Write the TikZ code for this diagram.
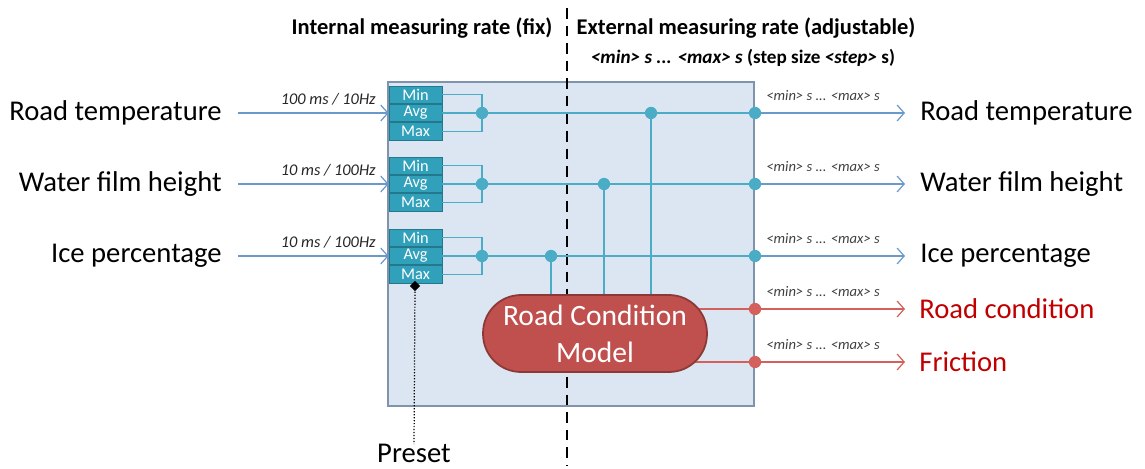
\documentclass[tikz,border=0pt]{standalone}
\usepackage{fontspec}
\setmainfont{Carlito}
\usetikzlibrary{arrows.meta,shapes.geometric}
\definecolor{boxfill}{HTML}{DCE6F2}
\definecolor{boxborder}{HTML}{7F93AD}
\definecolor{cellfill}{HTML}{31A0BA}
\definecolor{cellborder}{HTML}{23788C}
\definecolor{linecol}{HTML}{4BACC6}
\definecolor{arrowcol}{HTML}{6A9AC9}
\definecolor{redline}{HTML}{D4605C}
\definecolor{rcmfill}{HTML}{C0504D}
\definecolor{rcmborder}{HTML}{8C3836}
\definecolor{labred}{HTML}{C00000}
\tikzset{
  cell/.style={draw=cellborder, fill=cellfill, text=white, minimum width=1.06cm, minimum height=0.35cm, inner sep=0pt, font=\fontsize{9.3}{10}\selectfont},
  inarrow/.style={draw=arrowcol, line width=0.7pt, -{Straight Barb[length=4pt,width=9pt]}},
  outarrow/.style={draw=arrowcol, line width=0.7pt, -{Straight Barb[length=4pt,width=9pt]}},
  redarrow/.style={draw=redline, line width=0.7pt, -{Straight Barb[length=4pt,width=9pt]}},
  tline/.style={draw=linecol, line width=0.7pt},
  rline/.style={draw=redline, line width=0.7pt},
  tdot/.style={circle, fill=linecol, inner sep=0pt, minimum size=7pt},
  rdot/.style={circle, fill=redline, inner sep=0pt, minimum size=7pt},
  biglabel/.style={font=\fontsize{16.3}{19}\selectfont, inner sep=0pt},
  ratelabel/.style={font=\fontsize{9.3}{11}\selectfont\itshape, inner sep=0pt, text=black!85},
  outlabel/.style={font=\fontsize{8.3}{10}\selectfont, inner sep=0pt, text=black!75},
  header/.style={font=\fontsize{12.8}{15}\selectfont\bfseries, inner sep=0pt}
}
\begin{document}
\begin{tikzpicture}[x=0.02cm,y=-0.02cm]
\useasboundingbox (0,0) rectangle (1145,469);
% big box
\node[draw=boxborder, fill=boxfill, line width=0.8pt, minimum width=7.32cm, minimum height=6.48cm, inner sep=0pt] (box) at (571,244) {};
% dashed separator
\coordinate (dtop) at (567,8);
\coordinate (dbot) at (567,465);
\draw[line width=1.4pt, dash pattern=on 6pt off 4pt] (dtop) -- (dbot);
% headers
\node[header] (hint) at (422,28) {Internal measuring rate (fix)};
\node[header] (hext) at (746,28) {External measuring rate (adjustable)};
\node[font=\fontsize{10.9}{13}\selectfont\bfseries, inner sep=0pt] (hstep) at (743,58) {\itshape <min> s ... <max> s \upshape(step size \itshape<step>\upshape\ s)};
% RCM centre
\coordinate (rcmc) at (595,333.5);
% groups
\foreach \g/\y/\inname/\rate/\outname in {1/113/{Road temperature}/{100 ms / 10Hz}/{Road temperature}, 2/184/{Water film height}/{10 ms / 100Hz}/{Water film height}, 3/256/{Ice percentage}/{10 ms / 100Hz}/{Ice percentage}}{
  \node[cell] (avg\g) at (415.5,\y) {Avg};
  \node[cell, anchor=south] (min\g) at (avg\g.north) {Min};
  \node[cell, anchor=north] (max\g) at (avg\g.south) {Max};
  \node[biglabel, anchor=east] (in\g) at (222,\y) {\inname};
  \coordinate (src\g) at (238,\y);
  \draw[inarrow] (src\g) -- (avg\g.west);
  \node[ratelabel, anchor=east] (rate\g) at (376,\y-14) {\rate};
  \coordinate (br\g) at (482,\y);
  \draw[tline] (min\g.east) -| (br\g) |- (max\g.east);
  \coordinate (od\g) at (755,\y);
  \draw[tline] (avg\g.east) -- (od\g);
  \node[tdot] (bdot\g) at (br\g) {};
  \coordinate (oend\g) at (905,\y);
  \draw[outarrow] (od\g) -- (oend\g);
  \node[tdot] (odot\g) at (od\g) {};
  \node[outlabel, anchor=west] (ol\g) at (766,\y-17) {\itshape<min> s ... <max> s};
  \node[biglabel, anchor=west] (out\g) at (920,\y) {\outname};
}
% junctions to RCM
\coordinate (j1) at (651,113);
\coordinate (j2) at (604,184);
\coordinate (j3) at (551,256);
\foreach \i in {1,2,3}{
  \draw[tline] (j\i) -- (j\i |- rcmc);
  \node[tdot] (jd\i) at (j\i) {};
}
% red outputs
\coordinate (od4) at (755,309);
\coordinate (od5) at (755,362);
\draw[rline] (rcmc |- od4) -- (od4);
\draw[rline] (rcmc |- od5) -- (od5);
\coordinate (oend4) at (905,309);
\coordinate (oend5) at (905,362);
\draw[redarrow] (od4) -- (oend4);
\draw[redarrow] (od5) -- (oend5);
\node[rdot] (odot4) at (od4) {};
\node[rdot] (odot5) at (od5) {};
\node[outlabel, anchor=west] (ol4) at (766,292) {\itshape<min> s ... <max> s};
\node[outlabel, anchor=west] (ol5) at (766,345) {\itshape<min> s ... <max> s};
\node[biglabel, anchor=west, text=labred] (out4) at (919,309) {Road condition};
\node[biglabel, anchor=west, text=labred] (out5) at (919,362) {Friction};
% RCM
\node[draw=rcmborder, fill=rcmfill, line width=1pt, rounded corners=0.76cm, minimum width=4.48cm, minimum height=1.54cm, text=white, align=center, font=\fontsize{16.8}{21}\selectfont, inner sep=0pt] (rcm) at (rcmc) {Road Condition\\Model};
% preset
\node[diamond, fill=black, inner sep=0pt, minimum size=6pt] (pd) at (415,286) {};
\node[biglabel, anchor=north] (preset) at (414,444) {Preset};
\draw[densely dotted, line width=0.7pt] (pd) -- (preset.north);
\end{tikzpicture}
\end{document}
